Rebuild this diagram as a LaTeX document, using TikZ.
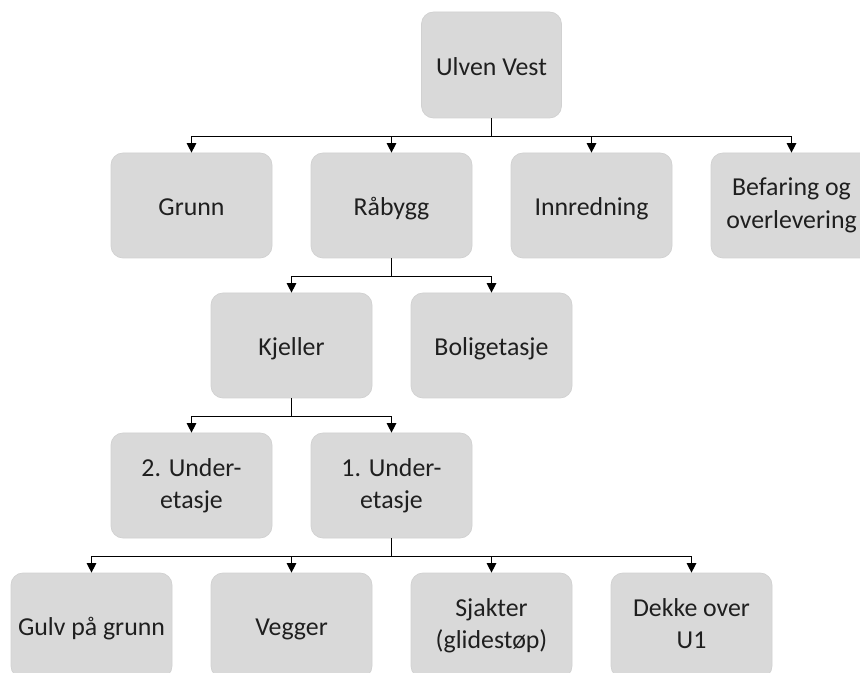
\documentclass[tikz,border=0pt]{standalone}
\usepackage{fontspec}
\setmainfont{Carlito}
\usepackage{tikz}
\usetikzlibrary{arrows.meta,positioning}

\newcommand\wbsstrut{\rule[-2.7pt]{0pt}{17.2pt}}

\begin{document}
\begin{tikzpicture}[>={Triangle[width=1.9mm,length=1.9mm]},
  wbs/.style={draw=black!18,rounded corners=2.4mm,fill=black!15,minimum width=3.22cm,minimum height=2.1cm,align=center,font=\fontsize{14.7}{18.3}\selectfont,text=black!88,inner sep=2pt,line width=0.4pt,execute at begin node=\wbsstrut,execute at end node=\wbsstrut},
  link/.style={->,line width=0.75pt}]
\path[use as bounding box,clip] (0,0) rectangle (17.2,-13.46);
% top
\node[wbs,minimum width=2.8cm,minimum height=2.12cm] (uv) at (9.83,-1.30) {Ulven Vest};
% level 1
\node[wbs] (grunn) at (3.83,-4.11) {Grunn};
\node[wbs] (rabygg) at (7.83,-4.11) {Råbygg};
\node[wbs] (innr) at (11.83,-4.11) {Innredning};
\node[wbs] (befar) at (15.83,-4.11) {Befaring og\\overlevering};
% level 2
\node[wbs] (kjeller) at (5.83,-6.91) {Kjeller};
\node[wbs] (bolig) at (9.83,-6.91) {Boligetasje};
% level 3
\node[wbs] (u2) at (3.83,-9.71) {2. Under-\\etasje};
\node[wbs] (u1) at (7.83,-9.71) {1. Under-\\etasje};
% level 4
\node[wbs] (gulv) at (1.83,-12.51) {Gulv på grunn};
\node[wbs] (vegger) at (5.83,-12.51) {Vegger};
\node[wbs] (sjakt) at (9.83,-12.51) {Sjakter\\(glidestøp)};
\node[wbs] (dekke) at (13.83,-12.51) {Dekke over\\U1};
% connectors
\foreach \c in {grunn,rabygg,innr,befar}
  \draw[link] (uv.south) -- ++(0,-0.36) -| (\c.north);
\foreach \c in {kjeller,bolig}
  \draw[link] (rabygg.south) -- ++(0,-0.36) -| (\c.north);
\foreach \c in {u2,u1}
  \draw[link] (kjeller.south) -- ++(0,-0.36) -| (\c.north);
\foreach \c in {gulv,vegger,sjakt,dekke}
  \draw[link] (u1.south) -- ++(0,-0.36) -| (\c.north);
\end{tikzpicture}
\end{document}
